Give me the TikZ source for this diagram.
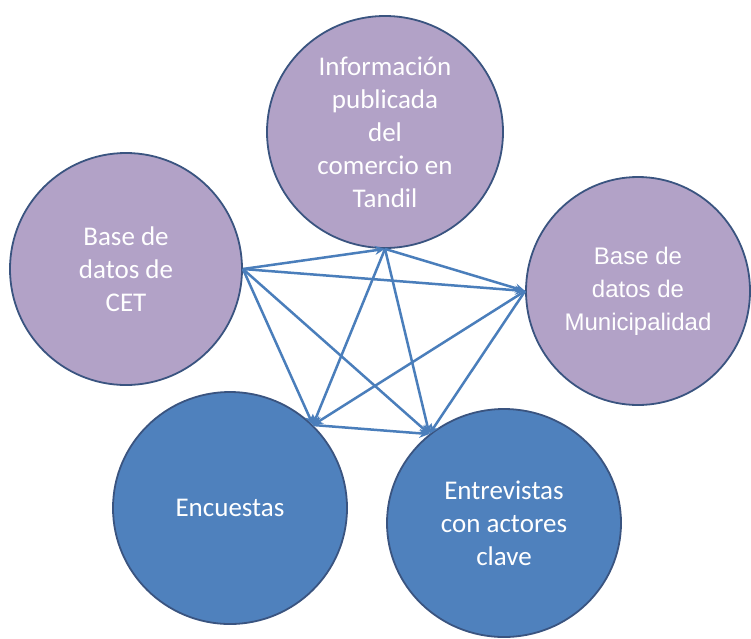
\documentclass[tikz,border=0pt]{standalone}
\usepackage{fontspec}
\setmainfont{Carlito}
\newfontfamily\arialf{Liberation Sans}
\usetikzlibrary{shapes.geometric,arrows.meta}
\definecolor{lila}{RGB}{178,162,199}
\definecolor{azul}{RGB}{79,129,189}
\definecolor{borde}{RGB}{58,84,128}
\definecolor{flecha}{RGB}{74,126,187}
\begin{document}
\begin{tikzpicture}[x=1pt,y=1pt,
  bubble/.style={ellipse, draw=borde, line width=1.8pt, text=white, align=center, inner sep=0pt,
    font=\fontsize{27}{33}\selectfont},
  lilabub/.style={bubble, fill=lila},
  azulbub/.style={bubble, fill=azul},
  conn/.style={draw=flecha, line width=2.5pt, -{Stealth[length=10pt,width=9pt]}}]
\useasboundingbox (0,0) rectangle (751,-638);
\fill[white] (0,0) rectangle (751,-638);
\node[lilabub, minimum width=236pt, minimum height=232pt] (info) at (385,-132)
  {Información\\publicada\\del\\comercio en\\Tandil};
\node[lilabub, minimum width=232pt, minimum height=232pt] (cet) at (126,-269)
  {Base de\\datos de\\CET};
\node[lilabub, minimum width=224pt, minimum height=228pt] (muni) at (638,-291)
  {\arialf\fontsize{24}{31}\selectfont Base de\\\arialf\fontsize{24}{31}\selectfont datos de\\\arialf\fontsize{24}{31}\selectfont Municipalidad};
\node[azulbub, minimum width=234pt, minimum height=232pt] (enc) at (230,-508)
  {Encuestas};
\node[azulbub, minimum width=234pt, minimum height=228pt] (entr) at (504,-523)
  {Entrevistas\\con actores\\clave};
\draw[conn] (cet.east) -- (info.south);
\draw[conn] (cet.east) -- (muni.west);
\draw[conn] (cet.east) -- (enc.45);
\draw[conn] (cet.east) -- (entr.130);
\draw[conn] (info.south) -- (muni.west);
\draw[conn] (info.south) -- (enc.45);
\draw[conn] (info.south) -- (entr.130);
\draw[conn] (muni.west) -- (enc.45);
\draw[conn] (muni.west) -- (entr.130);
\draw[conn] (enc.45) -- (entr.130);
\end{tikzpicture}
\end{document}
